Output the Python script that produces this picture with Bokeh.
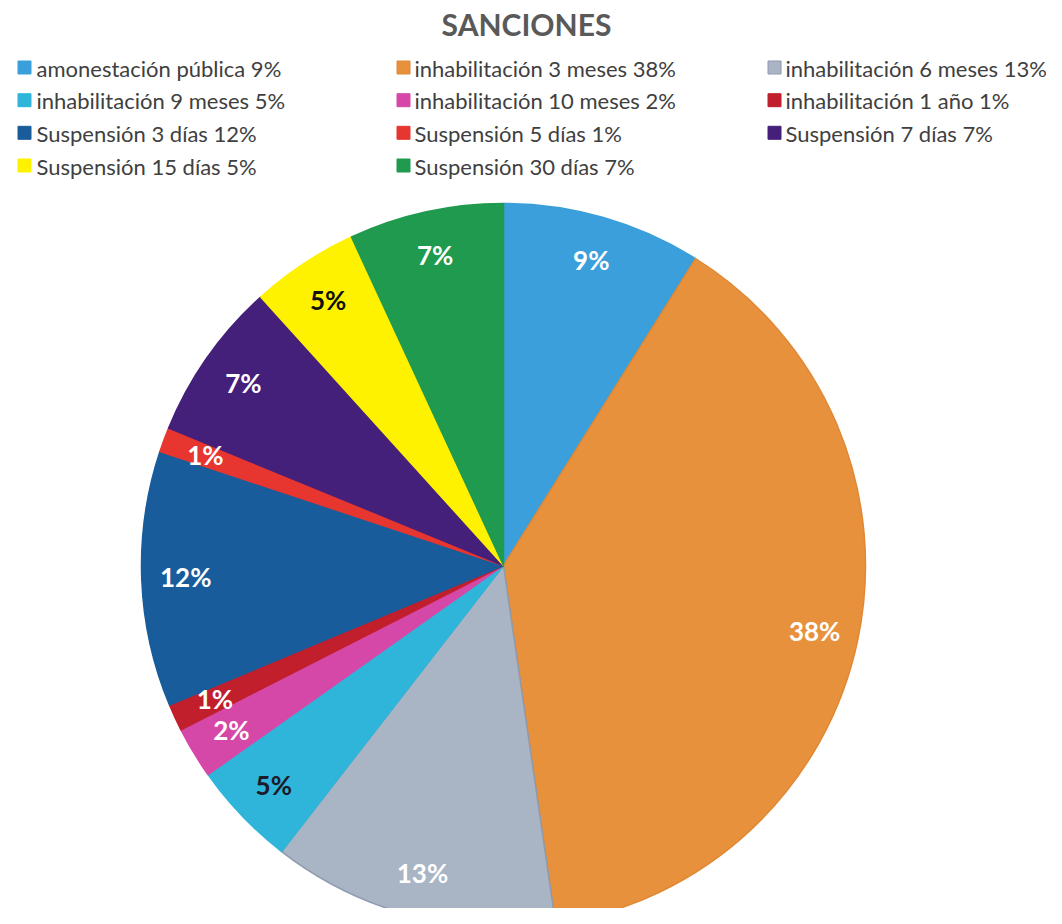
import numpy as np
from bokeh.plotting import figure
from bokeh.models import Range1d, ColumnDataSource
from bokeh.core.properties import value
from bokeh.embed import file_html
from bokeh.resources import INLINE

# ---------------- data ----------------
categories = [
    "amonestación pública",
    "inhabilitación 3 meses",
    "inhabilitación 6 meses",
    "inhabilitación 9 meses",
    "inhabilitación 10 meses",
    "inhabilitación 1 año",
    "Suspensión 3 días",
    "Suspensión 5 días",
    "Suspensión 7 días",
    "Suspensión 15 días",
    "Suspensión 30 días",
]
shares = [8.9, 38.8, 12.8, 4.7, 2.3, 1.2, 11.4, 1.1, 7.1, 4.8, 6.9]
pct_labels = ["9%", "38%", "13%", "5%", "2%", "1%", "12%", "1%", "7%", "5%", "7%"]
colors = ["#3A9FDA", "#E8913C", "#A9B4C5", "#2FB5D9", "#D548A8", "#C01F2B",
          "#195C9B", "#E6362F", "#45207A", "#FFF200", "#1F9A4F"]
edge_colors = ["#3A9FDA", "#E08834", "#8E9AAE", "#2FB5D9", "#D548A8", "#C01F2B",
               "#195C9B", "#E6362F", "#45207A", "#FFF200", "#1F9A4F"]
label_colors = ["white", "white", "white", "#1B1B2A", "white", "white",
                "white", "white", "white", "#111111", "white"]

# ---------------- layout ----------------
W, H = 1046, 908
def px(x):  # picture x -> data x
    return x
def py(y):  # picture y -> data y
    return H - y

CX, CY, R = px(503), py(565), 362
LR = 318

frac = np.array(shares) / np.sum(shares)
cum_end = np.cumsum(frac)
cum_start = cum_end - frac
# clockwise from 12 o'clock
start = np.pi / 2 - 2 * np.pi * cum_end
end = np.pi / 2 - 2 * np.pi * cum_start
mid = 2 * np.pi * (cum_start + cum_end) / 2
lx = CX + LR * np.sin(mid)
ly = CY + LR * np.cos(mid)

src = ColumnDataSource(dict(start=start, end=end, color=colors, edge=edge_colors,
                            lx=lx, ly=ly, lab=pct_labels, lc=label_colors))

p = figure(width=W, height=H, x_range=Range1d(0, W), y_range=Range1d(0, H),
           output_backend="svg", toolbar_location=None, min_border=0,
           x_axis_location=None, y_axis_location=None)
p.grid.visible = False
p.outline_line_color = None
p.background_fill_color = "white"

p.wedge(x=CX, y=CY, radius=R, start_angle="start", end_angle="end",
        fill_color="color", line_color="edge", line_width=1.5, source=src)

p.text(x="lx", y="ly", text="lab", text_color="lc", source=src,
       text_font=value("Lato"), text_font_style="bold", text_font_size="26px",
       text_align="center", text_baseline="middle")

# title
p.text(x=[px(526)], y=[py(23)], text=["SANCIONES"], text_color="#595959",
       text_font=value("Lato"), text_font_style="bold", text_font_size="30px",
       text_align="center", text_baseline="middle")

# legend (3 columns, row-major)
col_sq = [24, 403, 774]
col_tx = [36, 414, 785]
row_mid = [67, 99.7, 132.3, 165]
sq_x, sq_y, tx_x, tx_y, texts = [], [], [], [], []
for i, (c, pl) in enumerate(zip(categories, pct_labels)):
    r, k = divmod(i, 3)
    sq_x.append(px(col_sq[k]))
    sq_y.append(py(row_mid[r]))
    tx_x.append(px(col_tx[k]))
    tx_y.append(py(row_mid[r] + 0.5))
    texts.append(f"{c} {pl}")
p.rect(x=sq_x, y=sq_y, width=13, height=13, fill_color=colors,
       line_color=edge_colors, line_width=1)
p.text(x=tx_x, y=tx_y, text=texts, text_color="#404040",
       text_font=value("Lato"), text_font_size="22px",
       text_align="left", text_baseline="middle")

open("out.html", "w").write(file_html(p, INLINE))
